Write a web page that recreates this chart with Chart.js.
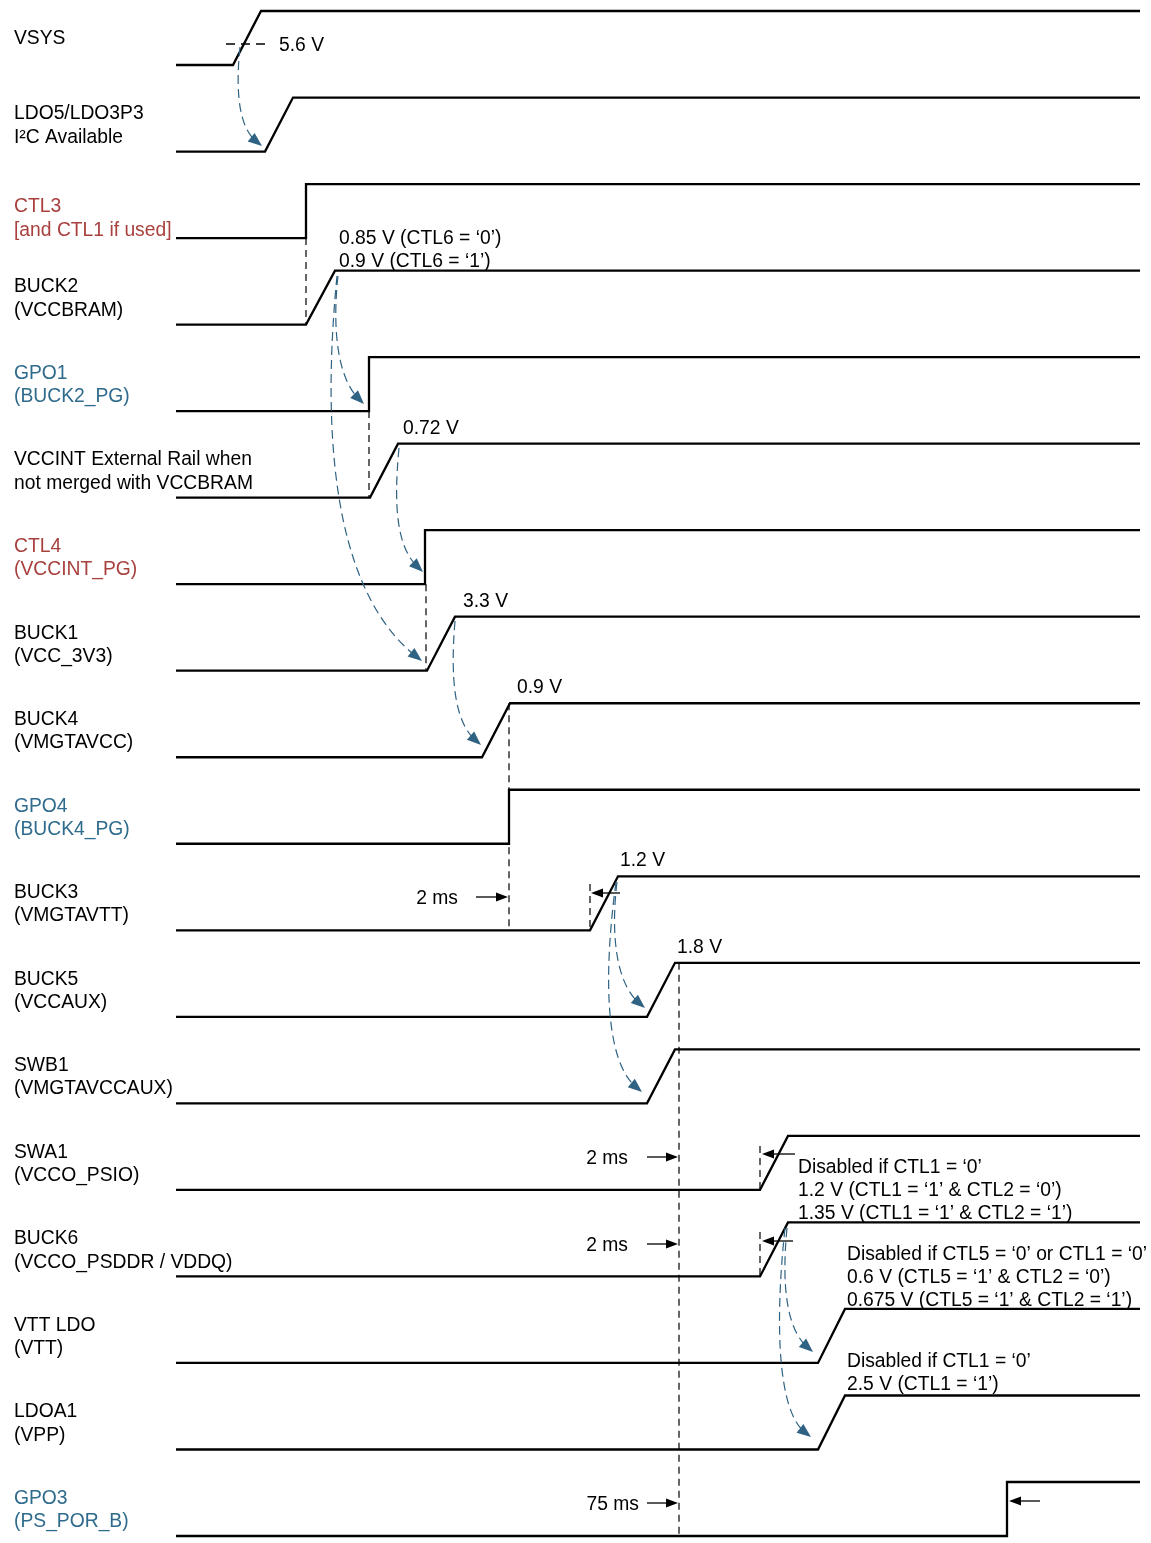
<!DOCTYPE html>
<html>
<head>
<meta charset="utf-8">
<script src="https://cdn.jsdelivr.net/npm/chart.js@4.4.1/dist/chart.umd.min.js"></script>
<style>
  html, body { margin: 0; padding: 0; background: #fff; }
  #wrap { width: 1151px; height: 1543px; }
</style>
</head>
<body>
<div id="wrap"><canvas id="timing" width="1151" height="1543"></canvas></div>
<script>
// ---- signal data (times in diagram time units) ----
const signalNames = [
  ["VSYS"],
  ["LDO5/LDO3P3", "I²C Available"],
  ["CTL3", "[and CTL1 if used]"],
  ["BUCK2", "(VCCBRAM)"],
  ["GPO1", "(BUCK2_PG)"],
  ["VCCINT External Rail when", "not merged with VCCBRAM"],
  ["CTL4", "(VCCINT_PG)"],
  ["BUCK1", "(VCC_3V3)"],
  ["BUCK4", "(VMGTAVCC)"],
  ["GPO4", "(BUCK4_PG)"],
  ["BUCK3", "(VMGTAVTT)"],
  ["BUCK5", "(VCCAUX)"],
  ["SWB1", "(VMGTAVCCAUX)"],
  ["SWA1", "(VCCO_PSIO)"],
  ["BUCK6", "(VCCO_PSDDR / VDDQ)"],
  ["VTT LDO", "(VTT)"],
  ["LDOA1", "(VPP)"],
  ["GPO3", "(PS_POR_B)"],
];
const signalKind = ["rail", "rail", "ctl", "rail", "gpo", "rail", "ctl", "rail", "rail",
  "gpo", "rail", "rail", "rail", "rail", "rail", "rail", "rail", "gpo"];
const riseStart = [233, 265, 306, 306, 369, 370, 425, 427, 482, 509, 590, 647, 647, 760, 760, 818, 818, 1007];
const riseEnd   = [261, 293, 306, 335, 369, 398, 425, 455, 510, 509, 618, 675, 675, 788, 788, 845, 845, 1007];
const lowLevel = 0;
const highLevel = 1;
const timeStart = 176;
const timeEnd = 1140;

// voltage notes: text lines
const noteText = [
  ["0.85 V (CTL6 = ‘0’)", "0.9 V (CTL6 = ‘1’)"],
  ["0.72 V"],
  ["3.3 V"],
  ["0.9 V"],
  ["1.2 V"],
  ["1.8 V"],
  ["Disabled if CTL1 = ‘0’", "1.2 V (CTL1 = ‘1’ & CTL2 = ‘0’)", "1.35 V (CTL1 = ‘1’ & CTL2 = ‘1’)"],
  ["Disabled if CTL5 = ‘0’ or CTL1 = ‘0’", "0.6 V (CTL5 = ‘1’ & CTL2 = ‘0’)", "0.675 V (CTL5 = ‘1’ & CTL2 = ‘1’)"],
  ["Disabled if CTL1 = ‘0’", "2.5 V (CTL1 = ‘1’)"],
];
const delayText = ["2 ms", "2 ms", "2 ms", "75 ms"];
const thresholdText = "5.6 V";

// ---- layout ----
const rowBase = 65, rowPitch = 86.53, rowSwing = 54;
function levelY(i, lv) { return rowBase + i * rowPitch - lv * rowSwing; }

const labelColors = { rail: "#000000", ctl: "#A8403D", gpo: "#2F6B8C" };
const arrowBlue = "#2F6283";
const FONT = "19.3px 'Liberation Sans', Arial, sans-serif";
const textShift = 2; // 'middle' baseline sits a little high
// first label line offset from the low level (single-line VSYS and CTL3 sit lower)
const labelOffset = (i) => (i === 0 ? -28 : i === 2 ? -33 : -39.5);

// note placement: [x, first line y]
const notePos = [
  [339, 237], [403, 427], [463, 600], [517, 686], [620, 859], [677, 946],
  [798, 1166], [847, 1253], [847, 1360],
];

// black dashed verticals [t, y1, y2]
const vLines = [
  [306, levelY(2, 0), levelY(3, 0)],
  [369, levelY(4, 0), levelY(5, 0)],
  [426, levelY(6, 0), levelY(7, 0)],
  [509, levelY(8, 1), levelY(10, 0)],
  [590, 884, levelY(10, 0)],
  [679, levelY(11, 1), levelY(17, 0)],
  [760, 1146, levelY(13, 0)],
  [760, 1232, levelY(14, 0)],
];

// delay arrows pointing right: [text right x, y, x1, x2]
const delayArrows = [
  [458, 897, 476, 508],
  [628, 1157, 647, 678],
  [628, 1244, 647, 678],
  [639, 1503, 647, 678],
];
// short arrows pointing left: [x1, x2, y]
const leftArrows = [
  [620, 591, 893],
  [795, 762, 1154],
  [793, 762, 1241],
  [1040, 1009, 1501],
];

// blue dashed dependency curves (cubic): [x0,y0, c1x,c1y, c2x,c2y, x1,y1]
const depCurves = [
  [240, 47, 235, 95, 240, 128, 262, 146],
  [338, 276, 332, 330, 338, 378, 364, 404],
  [337, 276, 318, 470, 345, 600, 422, 661],
  [399, 448, 393, 510, 398, 548, 423, 572],
  [455, 621, 450, 680, 455, 722, 481, 745],
  [617, 882, 610, 940, 618, 985, 645, 1008],
  [616, 882, 604, 970, 604, 1060, 642, 1092],
  [787, 1228, 781, 1290, 788, 1330, 813, 1352],
  [785, 1228, 774, 1330, 779, 1412, 811, 1437],
];

const datasets = signalNames.map((name, i) => ({
  label: name.join(" "),
  data: [
    { x: timeStart, y: levelY(i, lowLevel) },
    { x: riseStart[i], y: levelY(i, lowLevel) },
    { x: riseEnd[i], y: levelY(i, highLevel) },
    { x: timeEnd, y: levelY(i, highLevel) },
  ],
  showLine: true,
  borderColor: "#000",
  borderWidth: 2.3,
  pointRadius: 0,
  tension: 0,
  fill: false,
}));

function arrowHead(ctx, x, y, angle, len, wid, color) {
  ctx.save();
  ctx.translate(x, y);
  ctx.rotate(angle);
  ctx.fillStyle = color;
  ctx.beginPath();
  ctx.moveTo(0, 0);
  ctx.lineTo(-len, -wid / 2);
  ctx.lineTo(-len, wid / 2);
  ctx.closePath();
  ctx.fill();
  ctx.restore();
}

const timingDecor = {
  id: "timingDecor",
  afterDatasetsDraw(chart) {
    const ctx = chart.ctx;
    const X = (v) => chart.scales.x.getPixelForValue(v);
    const Y = (v) => chart.scales.y.getPixelForValue(v);
    const TY = (v) => Y(v) + textShift;
    ctx.save();
    ctx.font = FONT;
    ctx.textBaseline = "middle";

    // signal labels
    signalNames.forEach((lines, i) => {
      ctx.fillStyle = labelColors[signalKind[i]];
      ctx.textAlign = "left";
      const y0 = levelY(i, 0) + labelOffset(i);
      lines.forEach((t, k) => ctx.fillText(t, 14, TY(y0 + k * 23.3)));
    });

    // voltage notes
    ctx.fillStyle = "#000";
    noteText.forEach((lines, n) => {
      const [nx, ny] = notePos[n];
      lines.forEach((t, k) => ctx.fillText(t, X(nx), TY(ny + k * 23)));
    });

    // 5.6 V threshold
    ctx.strokeStyle = "#000";
    ctx.lineWidth = 1.3;
    ctx.setLineDash([9, 6]);
    ctx.beginPath();
    ctx.moveTo(X(226), Y(44));
    ctx.lineTo(X(266), Y(44));
    ctx.stroke();
    ctx.fillText(thresholdText, X(279), TY(44));

    // dashed verticals
    ctx.setLineDash([7, 5]);
    ctx.lineWidth = 1.2;
    vLines.forEach(([t, y1, y2]) => {
      ctx.beginPath();
      ctx.moveTo(X(t), Y(y1));
      ctx.lineTo(X(t), Y(y2));
      ctx.stroke();
    });

    // delay arrows
    ctx.setLineDash([]);
    ctx.lineWidth = 1.3;
    ctx.textAlign = "right";
    delayArrows.forEach(([tx, y, x1, x2], k) => {
      ctx.fillStyle = "#000";
      ctx.fillText(delayText[k], X(tx), TY(y));
      ctx.beginPath();
      ctx.moveTo(X(x1), Y(y));
      ctx.lineTo(X(x2) - 8, Y(y));
      ctx.stroke();
      arrowHead(ctx, X(x2), Y(y), 0, 12, 9, "#000");
    });
    leftArrows.forEach(([x1, x2, y]) => {
      ctx.beginPath();
      ctx.moveTo(X(x1), Y(y));
      ctx.lineTo(X(x2) + 8, Y(y));
      ctx.stroke();
      arrowHead(ctx, X(x2), Y(y), Math.PI, 12, 9, "#000");
    });

    // dependency curves
    ctx.strokeStyle = arrowBlue;
    ctx.lineWidth = 1.2;
    depCurves.forEach((c) => {
      const p = c.map((v, k) => (k % 2 === 0 ? X(v) : Y(v)));
      const ang = Math.atan2(p[7] - p[5], p[6] - p[4]);
      ctx.setLineDash([9, 5]);
      ctx.beginPath();
      ctx.moveTo(p[0], p[1]);
      ctx.bezierCurveTo(p[2], p[3], p[4], p[5], p[6] - 8 * Math.cos(ang), p[7] - 8 * Math.sin(ang));
      ctx.stroke();
      ctx.setLineDash([]);
      arrowHead(ctx, p[6], p[7], ang, 14, 11, arrowBlue);
    });
    ctx.restore();
  },
};

new Chart(document.getElementById("timing"), {
  type: "scatter",
  data: { datasets },
  options: {
    responsive: false,
    animation: false,
    layout: { padding: 0 },
    scales: {
      x: { type: "linear", min: 0, max: 1151, display: false },
      y: { type: "linear", min: 0, max: 1543, reverse: true, display: false },
    },
    plugins: { legend: { display: false }, tooltip: { enabled: false } },
    elements: { line: { borderJoinStyle: "miter", borderCapStyle: "butt" } },
  },
  plugins: [timingDecor],
});
</script>
</body>
</html>
